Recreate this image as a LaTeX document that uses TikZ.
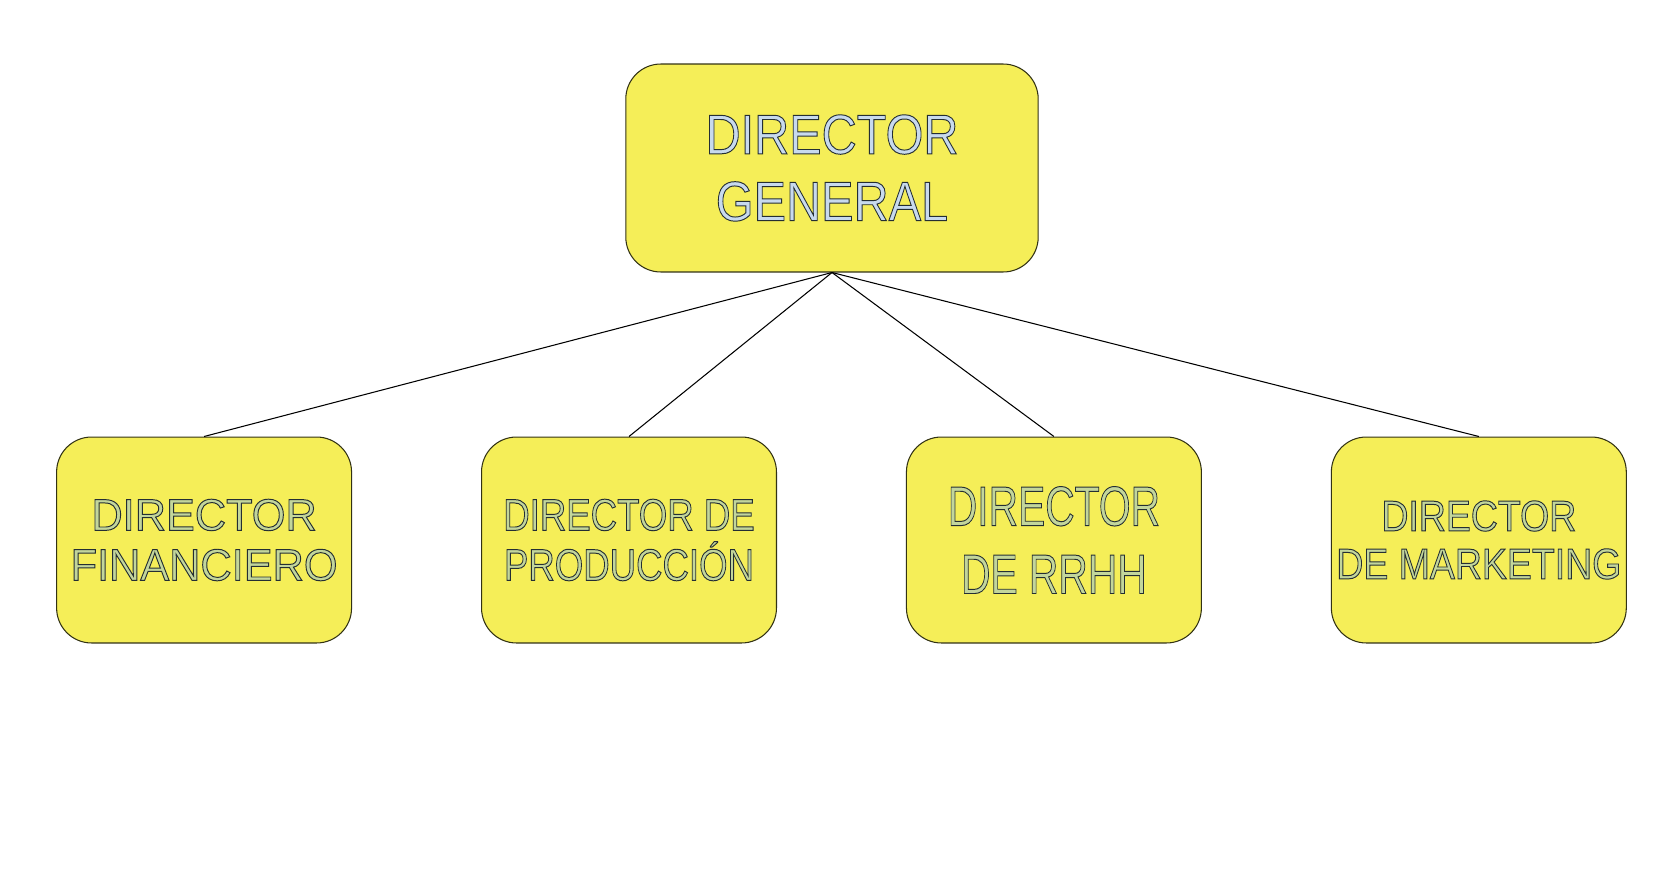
\documentclass[tikz,border=0pt]{standalone}
\usepackage{fontspec}
\setmainfont{Liberation Sans}
\usepackage{graphicx}
\usepackage{tikz}

\definecolor{boxfill}{RGB}{245,238,88}
\definecolor{boxline}{RGB}{50,50,20}
\definecolor{txtblue}{RGB}{200,218,238}
\definecolor{txtgreen}{RGB}{195,214,155}

% outlined letters: fill in the text colour, stroke in dark grey
\newcommand{\outl}[2]{\scalebox{#1}[1]{\special{pdf:literal direct 2 Tr 0.55 w 0.14 0.18 0.2 RG}#2\special{pdf:literal direct 0 Tr}}}

\tikzset{
  cargo/.style={draw=boxline,fill=boxfill,rounded corners=0.7cm,align=center,
    minimum width=5.9cm,minimum height=4.12cm,inner sep=0pt,text=txtgreen},
  jefe/.style={cargo,minimum width=8.25cm,minimum height=4.16cm,text=txtblue}
}

\begin{document}
\begin{tikzpicture}[x=0.02cm,y=-0.02cm,node distance=8.5cm,line width=0.6pt]
\useasboundingbox (0,0) rectangle (1658,883);

\node[jefe,font=\fontsize{31.8pt}{38.1pt}\selectfont]	(DG) at (832,168)	{\outl{0.87}{DIRECTOR}\\\outl{0.87}{GENERAL}};
\node[cargo,font=\fontsize{25.4pt}{28.5pt}\selectfont]	(DP) at (629,540)	{\outl{0.82}{DIRECTOR DE}\\\outl{0.82}{PRODUCCIÓN}};
\node[cargo,font=\fontsize{25.4pt}{28.5pt}\selectfont]	(DF) [left of = DP]	{\outl{0.97}{DIRECTOR}\\\outl{0.97}{FINANCIERO}};
\node[cargo,font=\fontsize{31.8pt}{38.7pt}\selectfont]	(DR) [right of = DP]	{\outl{0.73}{DIRECTOR}\\\outl{0.73}{DE RRHH}};
\node[cargo,font=\fontsize{24.5pt}{27.3pt}\selectfont]	(DM) [right of = DR]	{\outl{0.87}{DIRECTOR}\\\outl{0.87}{DE MARKETING}};

\path[draw=black]
	(DG.south)	edge	(DF.north)
			edge	(DP.north)
			edge	(DR.north)
			edge	(DM.north);
\end{tikzpicture}
\end{document}
